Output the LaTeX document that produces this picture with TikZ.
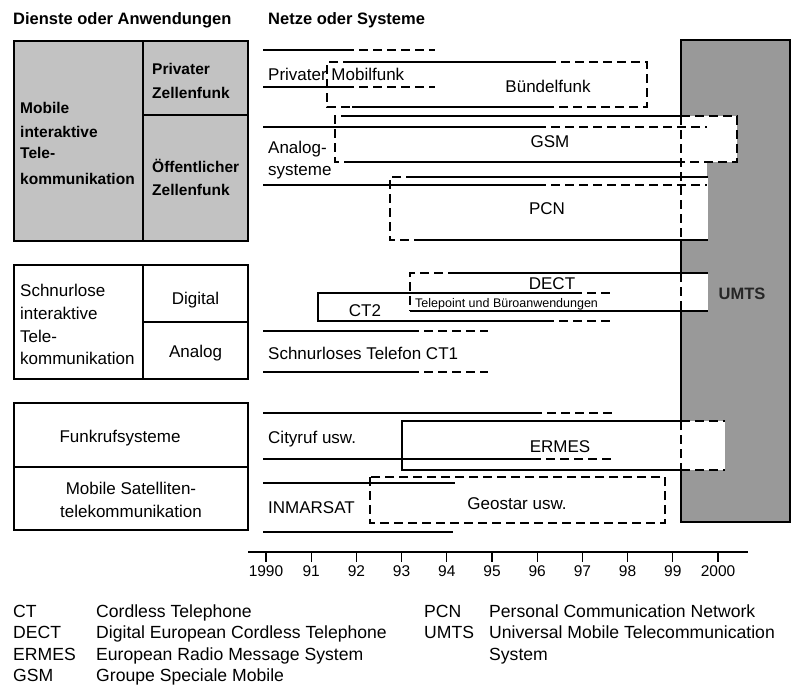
\documentclass[tikz,border=0pt]{standalone}
\usepackage{fontspec}
\setmainfont{Liberation Sans}
\newfontfamily\legendfont{Liberation Sans}
\definecolor{panelgray}{gray}{0.76}
\definecolor{umtsgray}{gray}{0.60}
\begin{document}
\begin{tikzpicture}[x=1pt,y=-1pt,
  tline/.style={line width=2.4pt},
  pline/.style={line width=2.4pt, dash pattern=on 9pt off 5pt},
  boxframe/.style={line width=2.8pt},
  axisline/.style={line width=1.3pt},
  celltext/.style={inner sep=0pt, text height=12.2pt, text depth=0pt, font=\fontsize{17}{20}\selectfont},
  cellbold/.style={inner sep=0pt, text height=11.1pt, text depth=0pt, font=\bfseries\fontsize{15.5}{18}\selectfont},
  headtext/.style={inner sep=0pt, text height=11.8pt, text depth=0pt, font=\bfseries\fontsize{16.5}{20}\selectfont},
  tinytext/.style={inner sep=0pt, text height=9pt, text depth=0pt, font=\fontsize{12.5}{15}\selectfont},
  yeartext/.style={inner sep=0pt, text height=11.1pt, text depth=0pt, font=\fontsize{15.5}{18}\selectfont},
  legendtext/.style={inner sep=0pt, text height=12.6pt, text depth=0pt, anchor=west, font=\legendfont\fontsize{17.6}{21}\selectfont},
]
\useasboundingbox (0,0) rectangle (794,693);

% ---------- column headings
\node[headtext, anchor=west] (hdienste) at (13,19) {Dienste oder Anwendungen};
\node[headtext, anchor=west] (hnetze) at (268,19) {Netze oder Systeme};

% ---------- left panels
\fill[panelgray] (14,41) rectangle (248,241);
\draw[boxframe] (14,41) rectangle (248,241);
\draw[boxframe] (143,41) -- (143,241);
\draw[boxframe] (143,115) -- (248,115);
\node[cellbold, anchor=west] (mob1) at (20,108) {Mobile};
\node[cellbold, anchor=west] (mob2) at (20,131.5) {interaktive};
\node[cellbold, anchor=west] (mob3) at (20,153) {Tele-};
\node[cellbold, anchor=west] (mob4) at (20,179) {kommunikation};
\node[cellbold, anchor=west] (priv1) at (152,69) {Privater};
\node[cellbold, anchor=west] (priv2) at (152,92.5) {Zellenfunk};
\node[cellbold, anchor=west] (oeff1) at (152,167) {Öffentlicher};
\node[cellbold, anchor=west] (oeff2) at (152,190) {Zellenfunk};

\draw[boxframe] (14,265) rectangle (248,379);
\draw[boxframe] (143,265) -- (143,379);
\draw[boxframe] (143,322) -- (248,322);
\node[celltext, anchor=west] (sch1) at (20,290) {Schnurlose};
\node[celltext, anchor=west] (sch2) at (20,313) {interaktive};
\node[celltext, anchor=west] (sch3) at (20,336.3) {Tele-};
\node[celltext, anchor=west] (sch4) at (20,358.3) {kommunikation};
\node[celltext] (digital) at (195.5,298.3) {Digital};
\node[celltext] (analog) at (195.5,351.7) {Analog};

\draw[boxframe] (14,403) rectangle (248,530);
\draw[boxframe] (14,467) -- (248,467);
\node[celltext] (funkruf) at (120,436.3) {Funkrufsysteme};
\node[celltext] (sat1) at (131,488.3) {Mobile Satelliten-};
\node[celltext] (sat2) at (131,511.7) {telekommunikation};

% ---------- UMTS block
\fill[umtsgray] (681,40) rectangle (790,522);
\draw[boxframe] (681,40) rectangle (790,522);

% white backgrounds of the bars reaching into the UMTS block
\fill[white] (335,116) rectangle (737,162);
\fill[white] (263,127) rectangle (707,185);
\fill[white] (390,177) rectangle (708,240);
\fill[white] (410,273) rectangle (708,311);
\fill[white] (402,421) rectangle (725,470);

% ---------- private mobile radio
\draw[tline] (263,50) -- (345,50);  \draw[pline] (345,50) -- (435,50);
\draw[tline] (263,87) -- (345,87);  \draw[pline] (345,87) -- (435,87);
\node[celltext, anchor=west] (privmob) at (268,74.7) {Privater Mobilfunk};

% Buendelfunk
\draw[pline] (352,62) -- (327,62) -- (327,107) -- (352,107);
\draw[tline] (352,62) -- (547,62);
\draw[tline] (352,107) -- (547,107);
\draw[pline] (547,62) -- (647,62) -- (647,107) -- (547,107);
\node[celltext] (buendel) at (548,86.7) {Bündelfunk};

% GSM
\draw[pline] (350,116) -- (335,116) -- (335,162) -- (350,162);
\draw[tline] (350,116) -- (681,116);
\draw[tline] (350,162) -- (681,162);
\draw[pline] (681,116) -- (737,116) -- (737,162) -- (681,162);
\node[celltext] (gsm) at (550,141.7) {GSM};

% analog systems
\draw[tline] (263,127) -- (537,127);  \draw[pline] (537,127) -- (707,127);
\draw[tline] (263,185) -- (537,185);  \draw[pline] (537,185) -- (707,185);
\node[celltext, anchor=west] (ana1) at (268,147) {Analog-};
\node[celltext, anchor=west] (ana2) at (268,169) {systeme};

% PCN
\draw[pline] (415,177) -- (390,177) -- (390,240) -- (415,240);
\draw[tline] (415,177) -- (708,177);
\draw[tline] (415,240) -- (708,240);
\node[celltext] (pcn) at (547,208.3) {PCN};

% DECT and CT2
\draw[pline] (457,273) -- (410,273) -- (410,311);
\draw[tline] (457,273) -- (708,273);
\draw[tline] (410,311) -- (708,311);
\draw[tline] (573,293) -- (318,293) -- (318,321) -- (545,321);
\draw[pline] (573,293) -- (613,293);
\draw[pline] (545,321) -- (613,321);
\node[celltext] (dect) at (552,283.7) {DECT};
\node[celltext] (ct2) at (365,310) {CT2};
\node[tinytext, anchor=west] (telepoint) at (415,302.5) {Telepoint und Büroanwendungen};

% CT1
\draw[tline] (263,331) -- (410,331);  \draw[pline] (410,331) -- (488,331);
\draw[tline] (263,372) -- (410,372);  \draw[pline] (410,372) -- (488,372);
\node[celltext, anchor=west] (ct1) at (268,353) {Schnurloses Telefon CT1};

% paging
\draw[tline] (263,413) -- (533,413);  \draw[pline] (533,413) -- (613,413);
\draw[tline] (263,459) -- (532,459);  \draw[pline] (532,459) -- (613,459);
\node[celltext, anchor=west] (cityruf) at (268,437.8) {Cityruf usw.};

% ERMES
\draw[tline] (681,421) -- (402,421) -- (402,470) -- (681,470);
\draw[pline] (681,421) -- (725,421);
\draw[pline] (681,470) -- (725,470);
\node[celltext] (ermes) at (560,446.7) {ERMES};

% satellite systems
\draw[tline] (263,483) -- (455,483);
\draw[tline] (263,532) -- (453,532);
\draw[pline] (370,477) rectangle (665,523);
\node[celltext, anchor=west] (inmarsat) at (268,507) {INMARSAT};
\node[celltext] (geostar) at (517,503.3) {Geostar usw.};

% UMTS border where the bars cross it
\draw[pline] (681,116) -- (681,240);
\draw[pline] (681,273) -- (681,311);
\draw[pline] (681,421) -- (681,470);
\node[headtext, text=black!85] (umts) at (742,293.3) {UMTS};

% ---------- time axis
\draw[axisline] (248,552) -- (748,552);
\foreach \lab [count=\i from 0] in {1990,91,92,93,94,95,96,97,98,99,2000} {
  \coordinate (tick\i) at ({266+45.2*\i},552);
  \draw[axisline] (tick\i) -- ++(0,10);
  \node[yeartext] (year\i) at ({266+45.2*\i},571) {\lab};
}

% ---------- abbreviations
\node[legendtext] (abct) at (13,611) {CT};
\node[legendtext] (dsct) at (96,611) {Cordless Telephone};
\node[legendtext] (abdect) at (13,632.5) {DECT};
\node[legendtext] (dsdect) at (96,632.5) {Digital European Cordless Telephone};
\node[legendtext] (abermes) at (13,654) {ERMES};
\node[legendtext] (dsermes) at (96,654) {European Radio Message System};
\node[legendtext] (abgsm) at (13,675.5) {GSM};
\node[legendtext] (dsgsm) at (96,675.5) {Groupe Speciale Mobile};
\node[legendtext] (abpcn) at (424,611) {PCN};
\node[legendtext] (dspcn) at (489,611) {Personal Communication Network};
\node[legendtext] (abumts) at (424,632.5) {UMTS};
\node[legendtext] (dsumts1) at (489,632.5) {Universal Mobile Telecommunication};
\node[legendtext] (dsumts2) at (489,654) {System};
\end{tikzpicture}
\end{document}
